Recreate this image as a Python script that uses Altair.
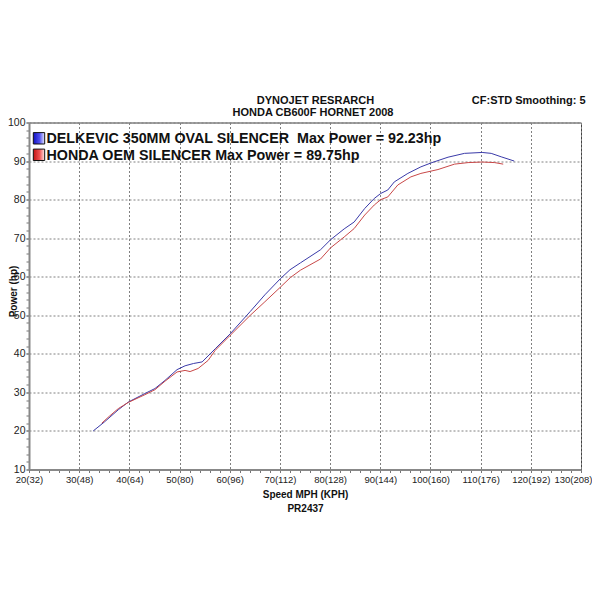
import altair as alt
import pandas as pd

# ---- data ----
delkevic_mph = [32.8, 35.0, 37.8, 39.8, 43.1, 45.1, 47.1, 49.5, 51.1, 52.8, 54.5, 57.1, 60.1, 64.1, 67.0,
                70.1, 72.0, 74.1, 78.1, 80.1, 82.8, 84.8, 86.9, 88.8, 90.1, 91.5, 92.8, 95.5, 98.1, 100.3,
                103.5, 106.8, 110.3, 112.1, 114.1, 116.7]
delkevic_hp = [20.0, 22.3, 25.5, 27.5, 29.7, 31.0, 33.1, 35.9, 36.9, 37.5, 37.9, 41.3, 45.2, 51.0, 55.3,
               59.5, 61.8, 63.6, 67.0, 69.6, 72.4, 74.2, 77.7, 80.3, 81.6, 82.5, 84.6, 86.8, 88.5, 89.6,
               91.0, 92.0, 92.23, 92.0, 91.1, 90.0]

oem_mph = [34.5, 36.0, 37.8, 39.8, 43.1, 45.1, 47.1, 49.5, 51.1, 52.1, 53.7, 55.7, 57.1, 60.1, 64.1, 67.0,
           70.1, 72.1, 74.1, 78.1, 80.1, 82.8, 84.8, 86.9, 88.8, 90.1, 91.5, 93.5, 96.1, 98.1, 101.5,
           104.8, 107.5, 110.3, 112.8, 114.5]
oem_hp = [22.0, 23.8, 25.8, 27.4, 29.4, 30.7, 32.9, 35.3, 35.7, 35.4, 36.2, 38.3, 40.9, 44.8, 50.0, 53.5,
          57.3, 59.8, 61.7, 64.6, 67.5, 70.3, 72.5, 76.0, 78.6, 80.0, 80.7, 83.8, 85.9, 86.8, 87.8,
          89.2, 89.6, 89.75, 89.6, 89.2]

series_names = ["DELKEVIC", "HONDA OEM"]
legend_labels = ["DELKEVIC 350MM OVAL SILENCER \u00a0Max Power = 92.23hp",
                 "HONDA OEM SILENCER Max Power = 89.75hp"]
x_ticks = [20, 30, 40, 50, 60, 70, 80, 90, 100, 110, 120, 130]
x_tick_labels = ["20(32)", "30(48)", "40(64)", "50(80)", "60(96)", "70(112)", "80(128)",
                 "90(144)", "100(160)", "110(176)", "120(192)", "130(208)"]
y_ticks = [10, 20, 30, 40, 50, 60, 70, 80, 90, 100]
x_minor = list(range(20, 131, 2))
y_minor = list(range(10, 101, 2))
title_lines = ["DYNOJET RESRARCH", "HONDA CB600F HORNET 2008"]
corner_text = "CF:STD Smoothing: 5"
x_title = ["Speed MPH (KPH)", "PR2437"]
y_title = "Power (hp)"

df = pd.concat([
    pd.DataFrame({"mph": delkevic_mph, "hp": delkevic_hp, "series": series_names[0], "order": range(len(delkevic_mph))}),
    pd.DataFrame({"mph": oem_mph, "hp": oem_hp, "series": series_names[1], "order": range(len(oem_mph))}),
])

FONT = "Liberation Sans, Arial, sans-serif"
NARROW = "Liberation Sans Narrow, Arial Narrow, Liberation Sans, sans-serif"
W, H = 552, 347

label_expr = "[" + ",".join("'%s'" % s for s in x_tick_labels) + "][round((datum.value-20)/10)]"
last_x = x_ticks[-1]

xscale = alt.Scale(domain=[20, 130], nice=False, zero=False)
yscale = alt.Scale(domain=[10, 100], nice=False, zero=False)

lines = alt.Chart(df).mark_line(strokeWidth=1, clip=True).encode(
    x=alt.X("mph:Q", scale=xscale,
            axis=alt.Axis(orient="bottom", values=x_ticks, labelExpr=label_expr, title=x_title,
                          labelFont=NARROW, labelFontSize=9.5, labelColor="#222",
                          labelAlign={"condition": {"test": "datum.value == %d" % last_x, "value": "right"},
                                      "value": "center"},
                          labelOffset={"condition": {"test": "datum.value == %d" % last_x, "value": 11},
                                       "value": 0},
                          labelPadding=2, tickSize=3, tickColor="#777",
                          domainColor="#888", domainWidth=2,
                          grid=True, gridColor="#808080", gridDash=[2, 2], gridWidth=1,
                          titleFont=FONT, titleFontSize=10, titleFontWeight="bold", titleColor="#111",
                          titleBaseline="top", titleY=20, titleLineHeight=13.5,
                          labelFlush=False, labelBound=False)),
    y=alt.Y("hp:Q", scale=yscale,
            axis=alt.Axis(orient="left", values=y_ticks, title=y_title,
                          labelFont=NARROW, labelFontSize=10.5, labelColor="#222",
                          labelPadding=1, tickSize=3, tickColor="#777",
                          domainColor="#888", domainWidth=2,
                          grid=True, gridColor="#808080", gridDash=[2, 2], gridWidth=1,
                          titleFont=FONT, titleFontSize=10, titleFontWeight="bold", titleColor="#111",
                          titleAngle=270, titleAlign="center", titleBaseline="middle",
                          titleX=-16, titleY=168.5, labelFlush=False)),
    color=alt.Color("series:N", scale=alt.Scale(domain=series_names, range=["#3a3aa8", "#c84848"]),
                    legend=None),
    order="order:Q",
)

minor = alt.Chart(df).mark_point(opacity=0).encode(
    x=alt.X("mph:Q", scale=xscale,
            axis=alt.Axis(orient="bottom", values=x_minor, labels=False, grid=False, domain=False,
                          tickSize=3, tickColor="#777", title=None)),
    y=alt.Y("hp:Q", scale=yscale,
            axis=alt.Axis(orient="left", values=y_minor, labels=False, grid=False, domain=False,
                          tickSize=3, tickColor="#777", title=None)),
)

def txt(s, x, y, size, align="left", weight="bold"):
    return alt.Chart(pd.DataFrame({"t": [s]})).mark_text(
        font=FONT, fontSize=size, fontWeight=weight, align=align, baseline="alphabetic", color="#111"
    ).encode(text="t:N", x=alt.value(x), y=alt.value(y))

def swatch(colors, y):
    grad = alt.Gradient(gradient="linear", x1=0, y1=0, x2=1, y2=0,
                        stops=[alt.GradientStop(color=colors[0], offset=0),
                               alt.GradientStop(color=colors[1], offset=0.55),
                               alt.GradientStop(color=colors[2], offset=1)])
    return alt.Chart(pd.DataFrame({"t": [0]})).mark_square(
        size=130, fill=grad, fillOpacity=1, stroke="#111", strokeWidth=1
    ).encode(x=alt.value(10), y=alt.value(y))

layers = [
    minor, lines,
    swatch(["#1010c0", "#5050f0", "#e8e8ff"], 15.8),
    swatch(["#c01010", "#f05050", "#ffe8e8"], 32.3),
    txt(legend_labels[0], 17.5, 20.8, 14.3),
    txt(legend_labels[1], 17.5, 37.0, 14.3),
    txt(title_lines[0], 286.5, -18.5, 11, align="center"),
    txt(title_lines[1], 284, -6.5, 11, align="center"),
    txt(corner_text, 556.5, -18.5, 11, align="right"),
]

chart = alt.layer(*layers).resolve_axis(x="independent", y="independent").properties(
    width=W, height=H,
    autosize=alt.AutoSizeParams(type="none"),
    padding={"left": 21, "top": 114.5, "right": 11, "bottom": 122},
    background="white",
).configure_view(stroke="#444", strokeWidth=1)

chart.save("out.html", embed_options={"renderer": "svg", "actions": False})
